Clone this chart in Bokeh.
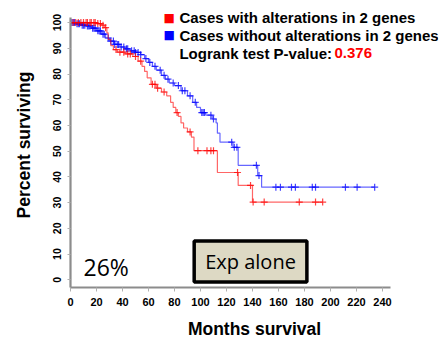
import numpy as np
from bokeh.plotting import figure
from bokeh.models import Label, FixedTicker, Range1d
from bokeh.embed import file_html
from bokeh.resources import INLINE

# ---- data ----
alt_times = [0, 20, 24, 26, 28, 29, 31, 33, 36, 42, 48, 52, 55, 57, 59, 62, 66, 70, 74, 77,
             79, 81, 83, 85, 87, 90, 93, 95, 113, 129, 140]
alt_surv = [100, 99.6, 99, 98, 96, 93.5, 91, 89.5, 88.5, 87.8, 86.8, 85, 83, 81, 78.5, 76, 74.5,
            73, 71.5, 69, 67, 65, 63.5, 61, 59, 57.5, 55.5, 50.2, 41.7, 36.7, 30.2]
alt_censor = [2, 4, 6, 8, 10, 12, 13, 15, 16, 18, 19, 21, 23, 25, 27, 35, 38, 41, 44, 46, 50, 54,
              63, 65, 67, 72, 82, 92, 98, 105, 108, 110, 128.5, 138.5, 140.5, 149, 176, 188.5, 194]

noalt_times = [0, 4, 8, 12, 16, 20, 24, 27, 30, 34, 38, 42, 46, 50, 54, 57, 60, 63, 66, 70,
               73, 76, 80, 85, 90, 94, 97, 100, 104, 109, 112, 113, 115, 125, 129, 144, 147]
noalt_surv = [100, 99.5, 99, 98.7, 97.8, 96.8, 95.5, 94, 92.8, 91.5, 90.5, 89.8, 89, 88.4, 87.5,
              86, 84.5, 83, 81.5, 79.5, 78, 76.5, 75.5, 73.5, 71.5, 69, 67, 65, 64, 62.5, 61, 57,
              53.5, 51.5, 44.5, 40.5, 36]
noalt_censor = [1, 2, 3, 5, 6, 7, 9, 10, 11, 13, 14, 15, 17, 18, 19, 21, 22, 23, 25, 26, 29, 31,
                33, 34, 36, 37, 39, 41, 43, 44, 47, 49, 50, 52, 54, 58, 61, 65, 69, 72, 75, 79,
                83, 86, 88, 92, 96, 101, 102, 103, 108, 110, 124, 126, 128, 143, 145, 158, 161.5,
                170, 173, 186, 188.5, 211.5, 220.5, 234]

x_ticks = [0, 20, 40, 60, 80, 100, 120, 140, 160, 180, 200, 220, 240]
y_ticks = [0, 10, 20, 30, 40, 50, 60, 70, 80, 90, 100]

legend_labels = ["Cases with alterations in 2 genes", "Cases without alterations in 2 genes"]
pvalue_prefix = "Logrank test P-value: "
pvalue_text = "0.376"
pct_text = "26%"
box_text = "Exp alone"

RED = "#ff0000"
BLUE = "#0000ff"
ARIAL = "Liberation Sans"

p = figure(width=440, height=343, x_range=Range1d(0, 283.1), y_range=Range1d(-3, 107.8),
           output_backend="svg", toolbar_location=None,
           min_border_left=70, min_border_right=2, min_border_top=2, min_border_bottom=56)
p.outline_line_color = None
p.grid.visible = False
p.background_fill_color = "white"
p.border_fill_color = "white"


def km(times, surv, censor):
    t = np.asarray(times, float)
    s = np.asarray(surv, float)
    c = np.asarray(censor, float)
    end = max(c.max(), t.max())
    xs = np.append(t, end)
    ys = np.append(s, s[-1])
    idx = np.searchsorted(t, c, side="right") - 1
    return xs, ys, c, s[idx]


for times, surv, cens, col in [(noalt_times, noalt_surv, noalt_censor, BLUE),
                               (alt_times, alt_surv, alt_censor, RED)]:
    xs, ys, cx, cy = km(times, surv, cens)
    p.step(xs, ys, mode="after", line_color=col, line_width=1.2, line_alpha=0.6)
    p.scatter(cx, cy, marker="cross", size=7, line_color=col, line_width=1.2, line_alpha=0.75)

# axes
for ax in (p.xaxis[0], p.yaxis[0]):
    ax.axis_line_color = "#8c8c8c"
    ax.axis_line_width = 2.2
    ax.major_tick_line_color = "#b0b0b0"
    ax.minor_tick_line_color = None
    ax.major_label_text_font = ARIAL
    ax.major_label_text_font_style = "bold"
    ax.major_label_text_color = "black"
    ax.axis_label_text_font = ARIAL
    ax.axis_label_text_font_style = "bold"
    ax.axis_label_text_font_size = "17.5px"
    ax.axis_label_text_color = "black"

p.xaxis.bounds = (0, 246)
p.yaxis.bounds = (-3, 101.9)
p.xaxis.ticker = FixedTicker(ticks=x_ticks)
p.yaxis.ticker = FixedTicker(ticks=y_ticks)
p.xaxis.major_tick_out = 4
p.xaxis.major_tick_in = 0
p.yaxis.major_tick_out = 3
p.yaxis.major_tick_in = 0
p.xaxis.major_label_text_font_size = "11px"
p.yaxis.major_label_text_font_size = "10.5px"
p.xaxis.major_label_standoff = 6
p.yaxis.major_label_standoff = 6
p.yaxis.major_label_orientation = "vertical"
p.xaxis.axis_label = "Months survival"
p.yaxis.axis_label = "Percent surviving"
p.xaxis.axis_label_standoff = 10
p.yaxis.axis_label_standoff = 17

# legend (text annotations)
for yv, col in [(101.94, RED), (95.14, BLUE)]:
    p.add_layout(Label(x=71.5, y=yv, text="\u25a0", text_color=col, text_font_size="12px",
                       text_baseline="middle", text_align="left", text_font="DejaVu Sans"))
for yv, txt in [(101.94, legend_labels[0]), (95.14, legend_labels[1]), (88.15, pvalue_prefix)]:
    p.add_layout(Label(x=83.8, y=yv, text=txt, text_font=ARIAL, text_font_style="bold",
                       text_font_size="15px", text_baseline="middle", text_color="black"))
p.add_layout(Label(x=83.8, y=88.15, x_offset=155, text=pvalue_text, text_font=ARIAL,
                   text_font_style="bold", text_font_size="15px", text_baseline="middle",
                   text_color=RED))

# annotations
p.add_layout(Label(x=10, y=5.0, text=pct_text, text_font="Open Sans", text_font_size="23px",
                   text_baseline="middle", text_align="left", text_color="black"))
p.add_layout(Label(x=138.5, y=7.1, text=box_text, text_font="Open Sans", text_font_size="20px",
                   text_baseline="middle", text_align="center", text_color="black",
                   background_fill_color="#ddd9c4", border_line_color="black",
                   border_line_width=3.5,
                   padding=dict(left=11, right=11, top=7, bottom=7)))

open("out.html", "w").write(file_html(p, INLINE))
